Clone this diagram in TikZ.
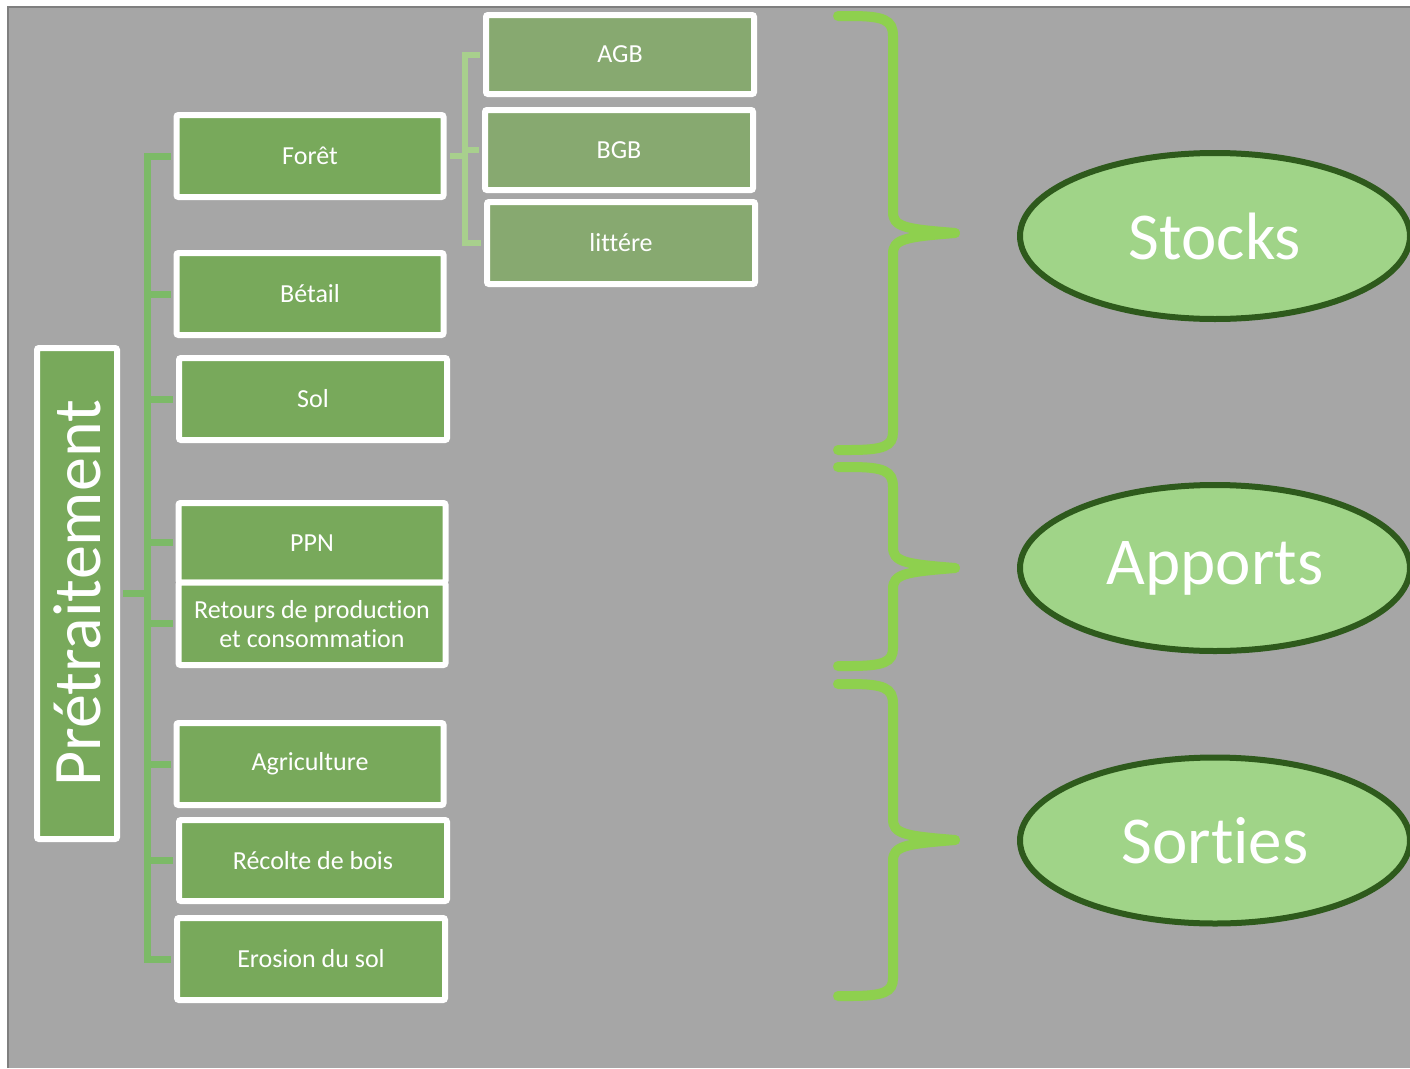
\documentclass[tikz,border=0pt]{standalone}
\usepackage{fontspec}
\setmainfont{Carlito}[Ligatures={NoCommon,NoRequired,NoContextual},RawFeature={-liga;-clig;-calt;-rlig;-dlig}]
\usepackage{tikz}
\usetikzlibrary{shapes.geometric}

\definecolor{bggrey}{HTML}{A6A6A6}
\definecolor{edgegrey}{HTML}{7F7F7F}
\definecolor{boxgreen}{HTML}{78A95B}
\definecolor{subgreen}{HTML}{87A970}
\definecolor{treegreen}{HTML}{7CBA67}
\definecolor{subtreegreen}{HTML}{A8D08D}
\definecolor{bracegreen}{HTML}{8ED04E}
\definecolor{ovalfill}{HTML}{A0D488}
\definecolor{ovaldraw}{HTML}{2E5A1C}

\tikzset{
  lvlone/.style={draw=white, line width=6pt, fill=boxgreen, rounded corners=2pt,
    minimum width=267pt, minimum height=82pt, inner sep=0pt, text=white,
    align=center, font=\fontsize{26}{29}\selectfont},
  lvltwo/.style={lvlone, fill=subgreen},
  tree/.style={draw=treegreen, line width=7pt, shorten >=3pt},
  subtree/.style={draw=subtreegreen, line width=6pt, shorten >=3pt},
  bigoval/.style={ellipse, draw=ovaldraw, line width=6pt, fill=ovalfill,
    minimum width=390pt, minimum height=166pt, inner sep=0pt, text=white,
    font=\fontsize{67}{70}\selectfont},
  curly/.style={draw=bracegreen, line width=10pt, line cap=round},
}

\begin{document}
\begin{tikzpicture}[x=1pt,y=-1pt]
      \useasboundingbox (0,0) rectangle (1410,1068);
      \fill[bggrey] (8,7) rectangle (1410,1068);
      \draw[edgegrey, line width=1.2pt] (8,1068) -- (8,7) -- (1410,7);

      % left column
      \node[lvlone, rotate=90, minimum width=491pt, minimum height=80pt,
            font=\fontsize{68}{70}\selectfont] (pretrait) at (77,593.5) {Prétraitement};

      % first level
      \node[lvlone] (foret)   at (310,156) {Forêt};
      \node[lvlone] (betail)  at (310,294) {Bétail};
      \node[lvlone, minimum width=268pt] (sol) at (313,399) {Sol};
      \node[lvlone, minimum height=79.5pt] (ppn) at (312,542.75) {PPN};
      \node[lvlone, minimum height=82.5pt] (retours) at (312,623.75) {Retours de production\\et consommation};
      \node[lvlone] (agri)    at (310,764) {Agriculture};
      \node[lvlone, minimum width=268pt, minimum height=81pt] (recolte) at (313,860.5) {Récolte de bois};
      \node[lvlone, minimum width=268pt] (erosion) at (311,959) {Erosion du sol};

      % second level
      \node[lvltwo, minimum width=268pt, minimum height=79pt] (agb) at (620,54.5) {AGB};
      \node[lvltwo, minimum width=268pt, minimum height=80pt] (bgb) at (619,150) {BGB};
      \node[lvltwo, minimum width=268pt] (littere) at (621,243) {littére};

      % connectors
      \coordinate (trunk) at (147,0);
      \coordinate (fork)  at (465,0);
      \draw[tree, shorten <=3pt] (foret.west) -| (trunk |- erosion.west) -- (erosion.west);
      \foreach \n in {betail,sol,ppn,retours,agri,recolte}
        \draw[tree] (trunk |- \n.west) -- (\n.west);
      \draw[tree, shorten >=0pt, shorten <=3pt] (pretrait.south) -- (trunk |- pretrait.south);
      \draw[subtree, shorten <=3pt] (agb.west) -| (fork |- littere.west) -- (littere.west);
      \draw[subtree] (fork |- bgb.west) -- (bgb.west);
      \draw[subtree, shorten >=0pt, shorten <=3pt] (foret.east) -- (fork |- foret.east);

      % braces
      \draw[curly] (838,16) -- (850,16) .. controls (884,16) and (893,20) .. (893,36) -- (893,212)
                   .. controls (893,227) and (905,229) .. (955,233);
      \draw[curly] (955,233) .. controls (905,237) and (893,239) .. (893,254) -- (893,432)
                   .. controls (893,446) and (884,450) .. (850,450) -- (838,450);
      \draw[curly] (838,467) -- (850,467) .. controls (884,467) and (893,471) .. (893,487) -- (893,547)
                   .. controls (893,562) and (905,564) .. (955,568);
      \draw[curly] (955,568) .. controls (905,572) and (893,574) .. (893,589) -- (893,648)
                   .. controls (893,662) and (884,666) .. (850,666) -- (838,666);
      \draw[curly] (838,684) -- (850,684) .. controls (884,684) and (893,688) .. (893,704) -- (893,819)
                   .. controls (893,834) and (905,836) .. (955,840);
      \draw[curly] (955,840) .. controls (905,844) and (893,846) .. (893,861) -- (893,978)
                   .. controls (893,992) and (884,996) .. (850,996) -- (838,996);

      % results
      \node[bigoval] (stocks)  at (1215,236) {Stocks};
      \node[bigoval] (apports) at (1215,568) {Apports};
      \node[bigoval] (sorties) at (1215,840.5) {Sorties};
    \end{tikzpicture}
\end{document}
